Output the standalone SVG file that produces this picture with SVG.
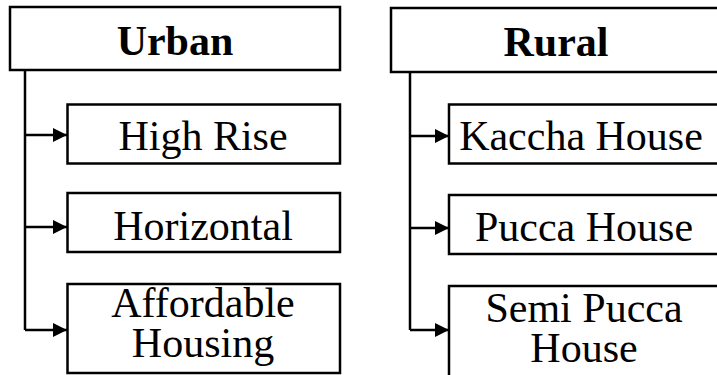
<svg xmlns="http://www.w3.org/2000/svg" width="717" height="375" viewBox="0 0 717 375">
<defs>
<style>
.box{fill:#fff;stroke:#000;stroke-width:2.5}
.t{font-size:42px;fill:#000;text-anchor:middle}
.b{font-weight:bold}
.c{fill:none;stroke:#000;stroke-width:2.5}
</style>
<marker id="ah" markerWidth="14" markerHeight="14" refX="14" refY="7" orient="auto" markerUnits="userSpaceOnUse">
<path d="M0,0 L14,7 L0,14 Z" fill="#000"/>
</marker>
</defs>
<rect width="717" height="375" fill="#fff"/>
<g id="connectors">
<path class="c" d="M25,70 V330"/>
<path class="c" d="M25,135 H67" marker-end="url(#ah)"/>
<path class="c" d="M25,227 H67" marker-end="url(#ah)"/>
<path class="c" d="M25,330 H67" marker-end="url(#ah)"/>
<path class="c" d="M410,72 V330"/>
<path class="c" d="M410,136 H449" marker-end="url(#ah)"/>
<path class="c" d="M410,228 H449" marker-end="url(#ah)"/>
<path class="c" d="M410,330 H449" marker-end="url(#ah)"/>
</g>
<g font-family="Liberation Serif, serif">
<g id="urban">
<rect class="box" x="10" y="7" width="330" height="63"/>
<text class="t b" x="175" y="55">Urban</text>
</g>
<g id="high-rise">
<rect class="box" x="67.5" y="104.5" width="272.5" height="59"/>
<text class="t" x="203" y="150">High Rise</text>
</g>
<g id="horizontal">
<rect class="box" x="67.5" y="193" width="272.5" height="59"/>
<text class="t" x="203" y="240">Horizontal</text>
</g>
<g id="affordable-housing">
<rect class="box" x="67.5" y="284" width="272.5" height="89"/>
<text class="t" x="203" y="317">Affordable</text>
<text class="t" x="203" y="357">Housing</text>
</g>
<g id="rural">
<rect class="box" x="391" y="8" width="340" height="64"/>
<text class="t b" x="556" y="56">Rural</text>
</g>
<g id="kaccha-house">
<rect class="box" x="449" y="104.5" width="282" height="59"/>
<text class="t" x="581" y="150">Kaccha House</text>
</g>
<g id="pucca-house">
<rect class="box" x="449" y="195" width="282" height="59"/>
<text class="t" x="584" y="241">Pucca House</text>
</g>
<g id="semi-pucca-house">
<rect class="box" x="449" y="286" width="282" height="100"/>
<text class="t" x="584" y="321.5">Semi Pucca</text>
<text class="t" x="584" y="361.5">House</text>
</g>
</g>
</svg>
